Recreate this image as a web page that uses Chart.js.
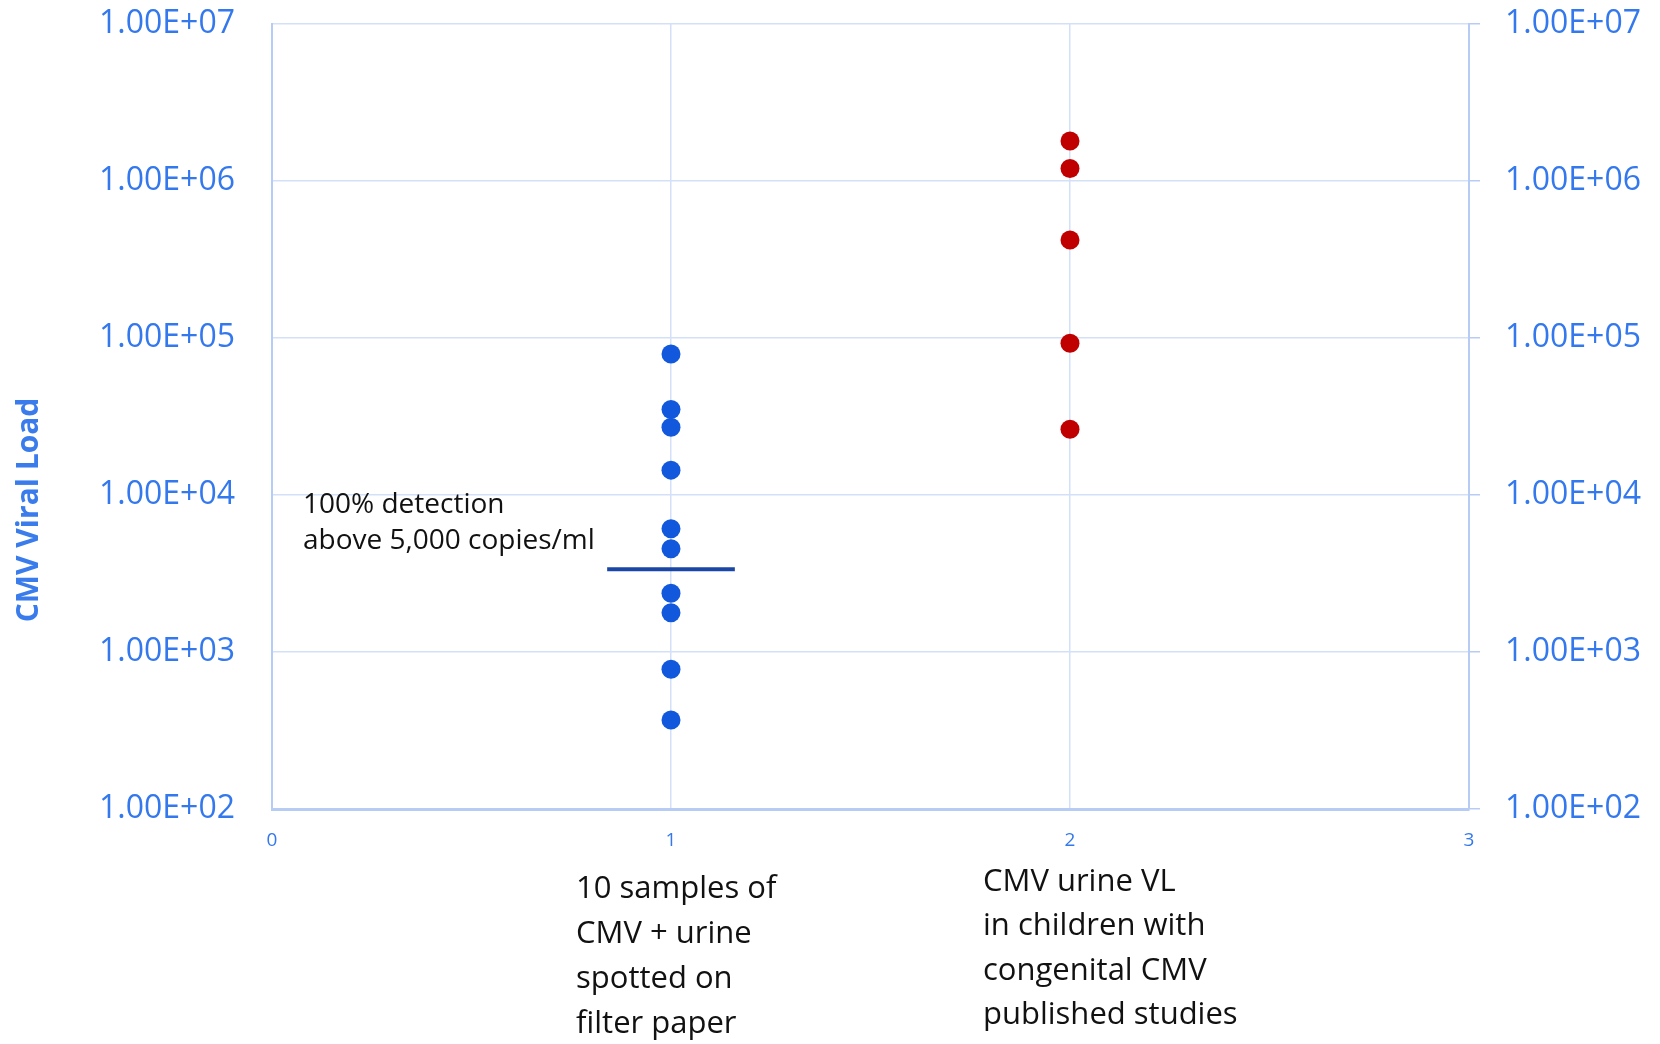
<!DOCTYPE html>
<html>
<head>
<meta charset="utf-8">
<script src="https://cdn.jsdelivr.net/npm/chart.js@4/dist/chart.umd.min.js"></script>
<style>
  html, body { margin: 0; padding: 0; background: #fff; }
  #wrap { width: 1660px; height: 1044px; position: relative; }
</style>
</head>
<body>
<div id="wrap"><canvas id="cmv"></canvas></div>
<script>
// values (copies/ml)
const sampleLoads = [79000, 35000, 27000, 14400, 6100, 4550, 2370, 1780, 777, 369];
const publishedLoads = [1800000, 1200000, 421000, 92500, 26200];
const sampleX = 1;
const publishedX = 2;
const thresholdLoad = 3360;
const thresholdSpan = [0.84, 1.16];
const xTicks = [0, 1, 2, 3];
const yTicks = [1e2, 1e3, 1e4, 1e5, 1e6, 1e7];
const noteLines = ['100% detection', 'above 5,000 copies/ml'];
const sampleLabel = ['10 samples of', 'CMV + urine', 'spotted on', 'filter paper'];
const publishedLabel = ['CMV urine VL', 'in children with', 'congenital CMV', 'published studies'];

const FONT = "'Open Sans', 'Liberation Sans', sans-serif";
const tickBlue = '#3478EE';
const gridBlue = '#D3E1F8';
const axisBlue = '#B6CCF4';

function sci(v) {
  const e = Math.round(Math.log10(v));
  return '1.00E+' + String(e).padStart(2, '0');
}

function fitY(width) {
  return s => {
    s.width = width;
    s.paddingTop = 0;
    s.paddingBottom = 0;
  };
}

// text that sits around the plot: axis title, note, category captions
const extraText = {
  id: 'extraText',
  afterDraw(chart) {
    const ctx = chart.ctx;
    const xs = chart.scales.x, ys = chart.scales.y;
    ctx.save();

    // y title
    ctx.translate(29, 510);
    ctx.rotate(-Math.PI / 2);
    ctx.font = 'bold 30px ' + FONT;
    ctx.fillStyle = '#3A7CEC';
    ctx.textAlign = 'center';
    ctx.textBaseline = 'middle';
    ctx.fillText('CMV Viral Load', 0, 0);
    ctx.setTransform(1, 0, 0, 1, 0, 0);

    // note next to threshold line
    ctx.font = '28px ' + FONT;
    ctx.fillStyle = '#111';
    ctx.textAlign = 'left';
    const ty = ys.getPixelForValue(thresholdLoad);
    ctx.fillText(noteLines[0], xs.getPixelForValue(0) + 31, ty - 64);
    ctx.fillText(noteLines[1], xs.getPixelForValue(0) + 31, ty - 28);

    // category captions
    ctx.font = '31px ' + FONT;
    sampleLabel.forEach((t, i) => {
      ctx.fillText(t, xs.getPixelForValue(sampleX) - 95, 889 + i * 45);
    });
    publishedLabel.forEach((t, i) => {
      ctx.fillText(t, xs.getPixelForValue(publishedX) - 87, 882 + i * 44.5);
    });
    ctx.restore();
  }
};

new Chart(document.getElementById('cmv'), {
  type: 'scatter',
  data: {
    datasets: [
      {
        label: 'samples',
        data: sampleLoads.map(v => ({ x: sampleX, y: v })),
        backgroundColor: '#1258DC',
        borderWidth: 0,
        pointRadius: 9.5,
        order: 1
      },
      {
        label: 'published',
        data: publishedLoads.map(v => ({ x: publishedX, y: v })),
        backgroundColor: '#C00000',
        borderWidth: 0,
        pointRadius: 9.5,
        order: 1
      },
      {
        type: 'line',
        label: 'threshold',
        data: thresholdSpan.map(x => ({ x: x, y: thresholdLoad })),
        borderColor: '#1A46A6',
        borderWidth: 4,
        pointRadius: 0,
        order: 0
      }
    ]
  },
  options: {
    responsive: true,
    maintainAspectRatio: false,
    animation: false,
    layout: { padding: { top: 24, left: 0, right: 0, bottom: 0 } },
    plugins: {
      legend: { display: false },
      tooltip: { enabled: false }
    },
    scales: {
      x: {
        type: 'linear',
        min: 0,
        max: 3,
        afterBuildTicks: s => { s.ticks = xTicks.map(v => ({ value: v })); },
        afterFit: s => { s.height = 235; },
        grid: { color: gridBlue, lineWidth: 1.5, drawTicks: false },
        border: { color: axisBlue, width: 3 },
        ticks: {
          color: tickBlue,
          font: { family: FONT, size: 19 },
          padding: 20,
          maxRotation: 0
        }
      },
      y: {
        type: 'logarithmic',
        position: 'left',
        min: 1e2,
        max: 1e7,
        afterBuildTicks: s => { s.ticks = yTicks.map(v => ({ value: v })); },
        afterFit: fitY(272),
        grid: { color: gridBlue, lineWidth: 1.5, drawTicks: false },
        border: { color: axisBlue, width: 2 },
        ticks: {
          color: tickBlue,
          font: { family: FONT, size: 32 },
          padding: 37,
          callback: v => sci(v)
        }
      },
      y2: {
        type: 'logarithmic',
        position: 'right',
        display: true,
        min: 1e2,
        max: 1e7,
        afterBuildTicks: s => { s.ticks = yTicks.map(v => ({ value: v })); },
        afterFit: fitY(191),
        grid: { drawOnChartArea: false, color: axisBlue, lineWidth: 1.5, tickLength: 11 },
        border: { color: axisBlue, width: 2 },
        ticks: {
          color: tickBlue,
          font: { family: FONT, size: 32 },
          padding: 25,
          callback: v => sci(v)
        }
      }
    }
  },
  plugins: [extraText]
});
</script>
</body>
</html>
